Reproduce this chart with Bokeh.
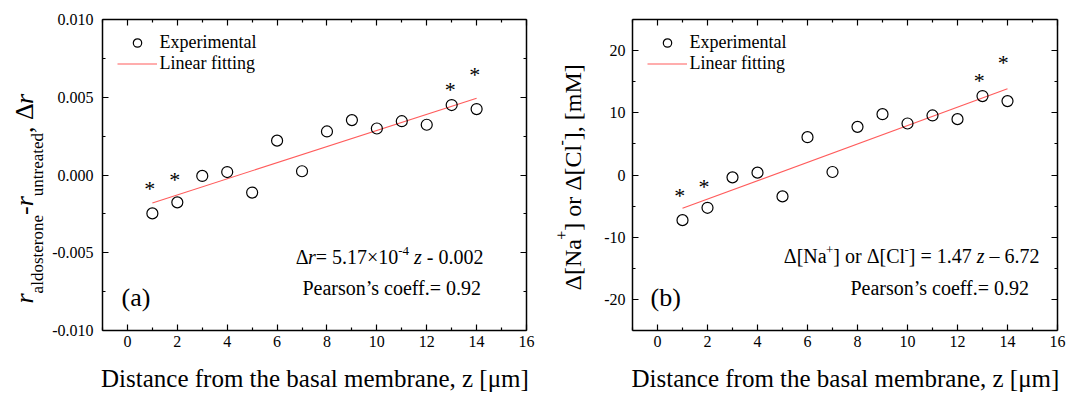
import math
import numpy as np
from bokeh.plotting import figure
from bokeh.layouts import row
from bokeh.models import (LinearAxis, FixedTicker, Range1d, Label, Legend,
                          LegendItem, CustomJSTickFormatter)
from bokeh.core.properties import value
from bokeh.embed import file_html
from bokeh.resources import INLINE

# ---------------- data ----------------
z_um = [1, 2, 3, 4, 5, 6, 7, 8, 9, 10, 11, 12, 13, 14]
delta_r = [-0.00247, -0.00176, -0.00006, 0.00019, -0.00113, 0.00221, 0.00024,
           0.00280, 0.00353, 0.00299, 0.00346, 0.00323, 0.00450, 0.00424]
delta_conc = [-7.26, -5.27, -0.38, 0.38, -3.44, 6.08, 0.48,
              7.74, 9.78, 8.28, 9.57, 8.98, 12.69, 11.88]

star_z_a = [0.89, 1.90, 12.94, 13.93]
star_y_a = [-0.00065, -0.00010, 0.00566, 0.00663]
star_z_b = [0.89, 1.86, 12.87, 13.83]
star_y_b = [-2.85, -1.40, 15.6, 18.5]

x_lim = (-1, 16)
x_major = [0, 2, 4, 6, 8, 10, 12, 14, 16]
x_minor = [-1, 1, 3, 5, 7, 9, 11, 13, 15]
ya_lim = (-0.010, 0.010)
ya_major = [-0.010, -0.005, 0.0, 0.005, 0.010]
ya_labels = ["-0.010", "-0.005", "0.000", "0.005", "0.010"]
ya_minor = [-0.0075, -0.0025, 0.0025, 0.0075]
yb_lim = (-25, 25)
yb_major = [-20, -10, 0, 10, 20]
yb_labels = ["-20", "-10", "0", "10", "20"]
yb_minor = [-15, -5, 5, 15]

x_title = "Distance from the basal membrane, z [\u03bcm]"
legend_labels = ["Experimental", "Linear fitting"]
pearson_text = "Pearson\u2019s coeff.= 0.92"

# ---------------- style / layout ----------------
FONT = "Liberation Serif"
H = 392
FRAME_TOP, FRAME_BOTTOM = 19, 330
BASE_FIX = 0.33  # Bokeh's alphabetic anchor sits below the true baseline
SPLIT = 545      # page x where the second figure starts

W = {' ': 250, '(': 333, ')': 333, '[': 333, ']': 333, ',': 250, '-': 333, '.': 250,
     '=': 564, '+': 564, '\u00d7': 564, '\u2013': 500, '\u2019': 333,
     'A': 722, 'C': 667, 'D': 722, 'E': 611, 'L': 611, 'M': 889, 'N': 722, 'P': 556,
     'a': 444, 'b': 500, 'c': 444, 'd': 500, 'e': 444, 'f': 333, 'g': 500, 'h': 500,
     'i': 278, 'l': 278, 'm': 778, 'n': 500, 'o': 500, 'p': 500, 'r': 333, 's': 389,
     't': 278, 'u': 500, 'x': 500, 'z': 444, '\u0394': 612, '\u03bc': 500}
for d in "0123456789":
    W[d] = 500
WI = {'r': 389, 'z': 389}


def tw(s, size, it=False):
    return sum((WI[c] if (it and c in WI) else W.get(c, 500)) for c in s) * size / 1000.0


def rich(p, x0, pieces, x_abs, y_abs, align="left", vertical=False):
    """Place a run of text pieces; x_abs/y_abs are page pixels of the baseline."""
    total = sum(tw(s, sz, it) for s, sz, it, sh in pieces)
    if vertical:
        pos = y_abs
    elif align == "right":
        pos = x_abs - total
    elif align == "center":
        pos = x_abs - total / 2
    else:
        pos = x_abs
    for s, sz, it, sh in pieces:
        lead = len(s) - len(s.lstrip())
        txt = s.strip()
        fix = BASE_FIX * sz
        if vertical:
            ya = pos - tw(s[:lead], sz, it)
            xa = x_abs - sh - fix
            pos -= tw(s, sz, it)
            ang = math.pi / 2
        else:
            xa = pos + tw(s[:lead], sz, it)
            ya = y_abs - sh - fix
            pos += tw(s, sz, it)
            ang = 0
        if not txt:
            continue
        p.add_layout(Label(x=xa - x0, y=H - ya, x_units="screen", y_units="screen",
                           angle=ang, text=txt, text_font=FONT,
                           text_font_size=f"{sz}px",
                           text_font_style="italic" if it else "normal",
                           text_color="black", text_align="left",
                           text_baseline="alphabetic"))


def style_axis(ax, ticks, minor, loc, bounds, show_labels=True, overrides=None, standoff=0):
    ax.ticker = FixedTicker(ticks=ticks, minor_ticks=minor)
    ax.fixed_location = loc
    ax.bounds = bounds
    ax.axis_line_color = "black"
    ax.axis_line_width = 1.5
    ax.major_tick_in = 6
    ax.major_tick_out = 0
    ax.minor_tick_in = 3
    ax.minor_tick_out = 0
    ax.major_tick_line_color = "black"
    ax.major_tick_line_width = 1.2
    ax.minor_tick_line_color = "black"
    ax.minor_tick_line_width = 1.2
    ax.axis_label = None
    if show_labels:
        ax.major_label_text_font = FONT
        ax.major_label_text_font_size = "16px"
        ax.major_label_text_color = "black"
        ax.major_label_standoff = standoff
        if overrides:
            ax.major_label_overrides = overrides
    else:
        ax.formatter = CustomJSTickFormatter(code="return ''")
        ax.major_label_text_font_size = "0px"
        ax.major_label_standoff = 0


def make_panel(x0, width, fl, fr, ylim, ymaj, ylab, ymin, zs, ys, sz, sy, ystand):
    kx = (fr - fl) / (x_lim[1] - x_lim[0])
    ky = (FRAME_BOTTOM - FRAME_TOP) / (ylim[1] - ylim[0])
    xr = Range1d(x_lim[0] - (fl - x0) / kx, x_lim[1] + (x0 + width - fr) / kx)
    yr = Range1d(ylim[0] - (H - FRAME_BOTTOM) / ky, ylim[1] + FRAME_TOP / ky)
    p = figure(width=width, height=H, x_range=xr, y_range=yr,
               output_backend="svg", toolbar_location=None, min_border=0,
               min_border_left=0, min_border_right=0, min_border_top=0,
               min_border_bottom=0)
    p.grid.visible = False
    p.outline_line_color = None
    p.background_fill_color = "white"
    p.border_fill_color = "white"

    style_axis(p.xaxis[0], x_major, x_minor, ylim[0], x_lim, standoff=5)
    style_axis(p.yaxis[0], ymaj, ymin, x_lim[0], ylim,
               overrides=dict(zip(ymaj, ylab)), standoff=ystand)
    top = LinearAxis()
    style_axis(top, x_major, x_minor, ylim[1], x_lim, show_labels=False)
    p.add_layout(top, "above")
    right = LinearAxis()
    style_axis(right, ymaj, ymin, x_lim[1], ylim, show_labels=False)
    p.add_layout(right, "right")

    fit = np.polyfit(zs, ys, 1)
    zline = np.array([zs[0], zs[-1]], dtype=float)
    r_fit = p.line(zline, np.polyval(fit, zline), line_color="#ff5c5c", line_width=1.1)
    r_pts = p.scatter(zs, ys, marker="circle", size=11, fill_color=None,
                      line_color="black", line_width=1.2)
    p.text(x=sz, y=sy, text=["*"] * len(sz), text_font=value(FONT),
           text_font_size="22px", text_align="center", text_baseline="middle",
           text_color="black", y_offset=3)

    leg = Legend(items=[LegendItem(label=legend_labels[0], renderers=[r_pts]),
                        LegendItem(label=legend_labels[1], renderers=[r_fit])],
                 location=(fl + 14.5 - x0, H - 74))
    leg.label_text_font = FONT
    leg.label_text_font_size = "18px"
    leg.label_text_color = "black"
    leg.border_line_color = None
    leg.background_fill_alpha = 0
    leg.padding = 5
    leg.margin = 0
    leg.spacing = 0
    leg.glyph_width = 40
    leg.glyph_height = 21
    leg.label_height = 21
    leg.label_standoff = 3
    p.add_layout(leg)

    rich(p, x0, [(x_title, 25, False, 0)], (fl + fr) / 2, 386, align="center")
    return p


pa = make_panel(0, SPLIT, 102, 526, ya_lim, ya_major, ya_labels, ya_minor,
                z_um, delta_r, star_z_a, star_y_a, 9)
pb = make_panel(SPLIT, 1066 - SPLIT, 632, 1057, yb_lim, yb_major, yb_labels, yb_minor,
                z_um, delta_conc, star_z_b, star_y_b, 7)

# y-axis titles (rotated, with sub/superscripts)
rich(pa, 0, [("r", 26, True, 0), ("aldosterone", 17, False, -10), ("-", 26, False, 0),
             ("r", 26, True, 0), ("untreated", 17, False, -10), (",", 26, False, 0),
             (" \u0394", 26, False, 0), ("r", 26, True, 0)],
     33, 303, vertical=True)
rich(pb, SPLIT, [("\u0394[Na", 24, False, 0), ("+", 16, False, 14), ("] or \u0394[Cl", 24, False, 0),
                 ("-", 16, False, 14), ("], [mM]", 24, False, 0)],
     580, 290, vertical=True)

# equations and panel tags
rich(pa, 0, [("\u0394", 20, False, 0), ("r", 20, True, 0), ("= 5.17\u00d710", 20, False, 0),
             ("-4", 13, False, 8), (" ", 20, False, 0), ("z", 20, True, 0),
             (" - 0.002", 20, False, 0)], 483, 263, align="right")
rich(pa, 0, [(pearson_text, 20, False, 0)], 482, 294, align="right")
rich(pa, 0, [("(a)", 26, False, 0)], 121, 306)

rich(pb, SPLIT, [("\u0394[Na", 20, False, 0), ("+", 13, False, 8), ("] or \u0394[Cl", 20, False, 0),
                 ("-", 13, False, 8), ("] = 1.47 ", 20, False, 0), ("z", 20, True, 0),
                 (" \u2013 6.72", 20, False, 0)], 1039, 262, align="right")
rich(pb, SPLIT, [(pearson_text, 20, False, 0)], 1030, 294, align="right")
rich(pb, SPLIT, [("(b)", 26, False, 0)], 650, 306)

layout = row(pa, pb, spacing=0)
open("out.html", "w").write(file_html(layout, INLINE))
